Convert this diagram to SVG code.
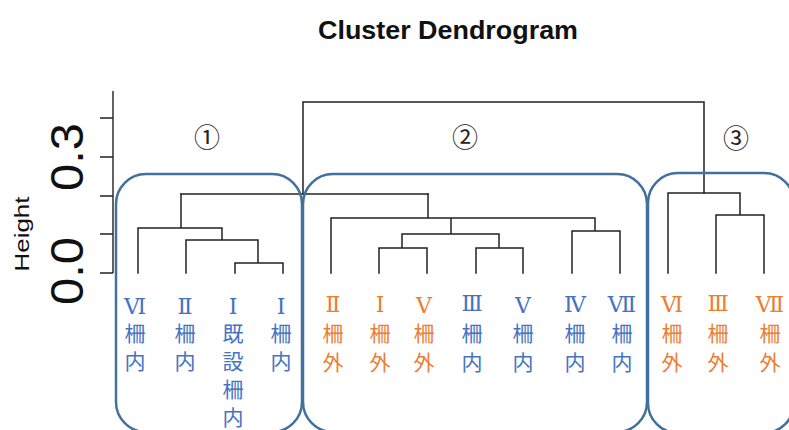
<svg xmlns="http://www.w3.org/2000/svg" width="789" height="430" viewBox="0 0 789 430">
  <style>
    .title { font-family: "Liberation Sans", Arial, sans-serif; font-weight: bold; font-size: 25px; fill: #111; }
    .axis-text { font-family: "Liberation Sans", Arial, sans-serif; fill: #111; }
    .axis { stroke: #222; stroke-width: 1.4; fill: none; }
    .tree { stroke: #222; stroke-width: 1.5; fill: none; stroke-linecap: square; }
    .box { stroke: #41719C; stroke-width: 2.5; fill: none; }
    .num { font-family: "DejaVu Serif", "Noto Sans CJK JP", serif; font-size: 26px; fill: #222; text-anchor: middle; }
    .leaf { font-family: "Noto Sans CJK JP", "Noto Sans CJK SC", sans-serif; font-size: 21px; text-anchor: middle; }
    .rn { font-family: "DejaVu Serif", "Noto Sans CJK JP", serif; font-size: 22px; }
    .in { fill: #4472C4; }
    .out { fill: #ED7D31; }
  </style>
  <rect width="789" height="430" fill="#ffffff"/>

  <!-- title -->
  <text class="title" x="448" y="39" text-anchor="middle" textLength="260" lengthAdjust="spacingAndGlyphs">Cluster Dendrogram</text>

  <!-- y axis -->
  <g id="axis">
    <path class="axis" d="M113 91V273 M100 118H113 M100 157H113 M100 196H113 M100 234H113 M100 273H113"/>
    <text class="axis-text" font-size="47" text-anchor="middle" transform="translate(83 157) rotate(-90)" textLength="68" lengthAdjust="spacingAndGlyphs">0.3</text>
    <text class="axis-text" font-size="47" text-anchor="middle" transform="translate(83 271) rotate(-90)" textLength="68" lengthAdjust="spacingAndGlyphs">0.0</text>
    <text class="axis-text" font-size="21" text-anchor="middle" transform="translate(29 234) rotate(-90)" textLength="75" lengthAdjust="spacingAndGlyphs">Height</text>
  </g>

  <!-- dendrogram branches -->
  <g id="connectors">
    <path class="tree" d="M303 194V102H704V193"/>
    <path class="tree" d="M181 194H428"/>
    <!-- cluster 1 -->
    <path class="tree" d="M181 194V228 M138 273V228H222V240 M186 273V240H258V263 M235 273V263H283V273"/>
    <!-- cluster 2 -->
    <path class="tree" d="M428 194V218 M331 273V218H595V231 M451 218V234 M402 248V234H499V248 M379 273V248H427V273 M476 273V248H523V273 M572 273V231H620V273"/>
    <!-- cluster 3 -->
    <path class="tree" d="M668 273V193H740V215 M716 273V215H764V273"/>
  </g>

  <!-- cluster frames -->
  <g id="cluster1">
    <rect class="box" x="116" y="174" width="186" height="258" rx="30"/>
    <text class="num" x="207" y="147">①</text>
  </g>
  <g id="cluster2">
    <rect class="box" x="303" y="174" width="344" height="258" rx="30"/>
    <text class="num" x="465" y="147">②</text>
  </g>
  <g id="cluster3">
    <rect class="box" x="648" y="173" width="146" height="260" rx="30"/>
    <text class="num" x="736" y="148">③</text>
  </g>

  <!-- leaf labels -->
  <g id="leaf-vi-in"><text class="leaf in"><tspan class="rn" x="135" y="314">Ⅵ</tspan><tspan x="135" y="341">柵</tspan><tspan x="135" y="369">内</tspan></text></g>
  <g id="leaf-ii-in"><text class="leaf in"><tspan class="rn" x="185" y="314">Ⅱ</tspan><tspan x="185" y="341">柵</tspan><tspan x="185" y="369">内</tspan></text></g>
  <g id="leaf-i-existing"><text class="leaf in"><tspan class="rn" x="233" y="314">Ⅰ</tspan><tspan x="233" y="341">既</tspan><tspan x="233" y="369">設</tspan><tspan x="233" y="397">柵</tspan><tspan x="233" y="425">内</tspan></text></g>
  <g id="leaf-i-in"><text class="leaf in"><tspan class="rn" x="281" y="314">Ⅰ</tspan><tspan x="281" y="341">柵</tspan><tspan x="281" y="369">内</tspan></text></g>

  <g id="leaf-ii-out"><text class="leaf out"><tspan class="rn" x="333" y="312">Ⅱ</tspan><tspan x="333" y="341">柵</tspan><tspan x="333" y="370">外</tspan></text></g>
  <g id="leaf-i-out"><text class="leaf out"><tspan class="rn" x="380" y="312">Ⅰ</tspan><tspan x="380" y="341">柵</tspan><tspan x="380" y="370">外</tspan></text></g>
  <g id="leaf-v-out"><text class="leaf out"><tspan class="rn" x="424" y="313">Ⅴ</tspan><tspan x="424" y="341">柵</tspan><tspan x="424" y="370">外</tspan></text></g>
  <g id="leaf-iii-in"><text class="leaf in"><tspan class="rn" x="472" y="311">Ⅲ</tspan><tspan x="472" y="341">柵</tspan><tspan x="472" y="370">内</tspan></text></g>
  <g id="leaf-v-in"><text class="leaf in"><tspan class="rn" x="523" y="313">Ⅴ</tspan><tspan x="523" y="341">柵</tspan><tspan x="523" y="370">内</tspan></text></g>
  <g id="leaf-iv-in"><text class="leaf in"><tspan class="rn" x="575" y="312">Ⅳ</tspan><tspan x="575" y="341">柵</tspan><tspan x="575" y="370">内</tspan></text></g>
  <g id="leaf-vii-in"><text class="leaf in"><tspan class="rn" x="622" y="312">Ⅶ</tspan><tspan x="622" y="341">柵</tspan><tspan x="622" y="370">内</tspan></text></g>

  <g id="leaf-vi-out"><text class="leaf out"><tspan class="rn" x="672" y="312">Ⅵ</tspan><tspan x="672" y="341">柵</tspan><tspan x="672" y="370">外</tspan></text></g>
  <g id="leaf-iii-out"><text class="leaf out"><tspan class="rn" x="718" y="311">Ⅲ</tspan><tspan x="718" y="341">柵</tspan><tspan x="718" y="370">外</tspan></text></g>
  <g id="leaf-vii-out"><text class="leaf out"><tspan class="rn" x="770" y="312">Ⅶ</tspan><tspan x="770" y="341">柵</tspan><tspan x="770" y="370">外</tspan></text></g>
</svg>
